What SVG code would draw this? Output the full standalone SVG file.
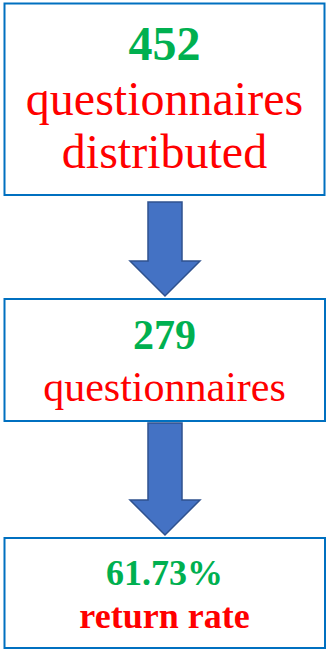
<svg xmlns="http://www.w3.org/2000/svg" width="327" height="649" viewBox="0 0 327 649">
  <style>
    .box { fill: #ffffff; stroke: #0070C0; stroke-width: 2; }
    .arrow { fill: #4472C4; stroke: #2F528F; stroke-width: 1.5; stroke-linejoin: miter; }
    text { font-family: "Liberation Serif", "Times New Roman", serif; text-anchor: middle; }
    .num { fill: #00B050; font-weight: bold; }
    .lbl { fill: #FF0000; }
    .lblb { fill: #FF0000; font-weight: bold; }
  </style>
  <rect width="327" height="649" fill="#ffffff"/>

  <!-- block arrows between stages -->
  <g id="connectors">
    <path class="arrow" d="M148,202 H182 V261 H200 L165,296 L130,261 H148 Z"/>
    <path class="arrow" d="M148,423 H182 V500 H200 L165,535 L130,500 H148 Z"/>
  </g>

  <g id="distributed">
    <rect class="box" x="4.5" y="3.5" width="320" height="191.5"/>
    <text class="num" x="164.5" y="60" font-size="48">452</text>
    <text class="lbl" x="164.5" y="115" font-size="48">questionnaires</text>
    <text class="lbl" x="164.5" y="168" font-size="48">distributed</text>
  </g>

  <g id="returned">
    <rect class="box" x="4.5" y="299" width="320.5" height="122"/>
    <text class="num" x="164.5" y="349" font-size="42">279</text>
    <text class="lbl" x="164.5" y="401" font-size="42">questionnaires</text>
  </g>

  <g id="rate">
    <rect class="box" x="4.5" y="538" width="320.5" height="110"/>
    <text class="num" x="164.5" y="585" font-size="36">61.73%</text>
    <text class="lblb" x="164.5" y="628" font-size="36">return rate</text>
  </g>
</svg>
